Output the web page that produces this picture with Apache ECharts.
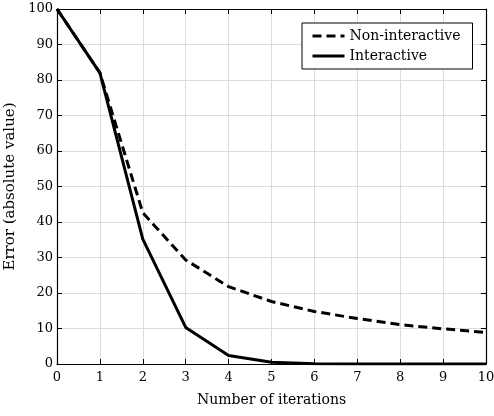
<!DOCTYPE html>
<html><head><meta charset="utf-8">
<script src="https://cdn.jsdelivr.net/npm/echarts@6/dist/echarts.min.js"></script>
<style>html,body{margin:0;padding:0;background:#fff}#c{width:494px;height:416px}</style>
</head><body><div id="c"></div>
<script>
const iterations = [0,1,2,3,4,5,6,7,8,9,10];
const nonInteractive = [100,82,42.6,29.3,21.8,17.6,14.8,12.8,11.1,9.9,8.9];
const interactive = [100,82,35.2,10.3,2.4,0.5,0.1,0,0,0,0];
const seriesNames = ['Non-interactive','Interactive'];
const F = 'DejaVu Serif, serif';
const chart = echarts.init(document.getElementById('c'));
const axisBase = {
  min: 0,
  axisLine:{show:true,onZero:false,lineStyle:{color:'#000',width:1.2}},
  axisTick:{show:true,inside:true,length:5,lineStyle:{color:'#000',width:1}},
};
chart.setOption({
  animation:false,
  grid:{left:57,right:8,top:9,bottom:52,containLabel:false,outerBoundsMode:'none'},
  legend:{
    show:true, left:302, top:23, orient:'vertical', itemWidth:32, itemHeight:12, itemGap:6,
    padding:[6,12,6,9], borderColor:'#000', borderWidth:1, backgroundColor:'#fff',
    itemStyle:{opacity:0}, lineStyle:{width:3},
    textStyle:{fontFamily:F,fontSize:14,color:'#000'},
    data: seriesNames
  },
  xAxis:[
    Object.assign({type:'value',position:'bottom',max:10,interval:1,
      name:'Number of iterations',nameLocation:'middle',nameGap:29,
      nameTextStyle:{fontFamily:F,fontSize:14,color:'#000'},
      axisLabel:{fontFamily:F,fontSize:13,color:'#000',margin:7},
      splitLine:{show:true,lineStyle:{color:'#dcdcdc',width:1}}},axisBase),
    Object.assign({type:'value',position:'top',max:10,interval:1,
      axisLabel:{show:false},splitLine:{show:false}},axisBase)
  ],
  yAxis:[
    Object.assign({type:'value',position:'left',max:100,interval:10,
      name:'Error (absolute value)',nameLocation:'middle',nameGap:31,
      nameTextStyle:{fontFamily:F,fontSize:15,color:'#000'},
      axisLabel:{fontFamily:F,fontSize:13,color:'#000',margin:4},
      splitLine:{show:true,lineStyle:{color:'#dcdcdc',width:1}}},axisBase),
    Object.assign({type:'value',position:'right',max:100,interval:10,
      axisLabel:{show:false},splitLine:{show:false}},axisBase)
  ],
  series:[
    {name:seriesNames[0],type:'line',symbol:'none',data:iterations.map((x,i)=>[x,nonInteractive[i]]),
     lineStyle:{color:'#000',width:3,type:[9,5]},itemStyle:{color:'#000'},z:3},
    {name:seriesNames[1],type:'line',symbol:'none',data:iterations.map((x,i)=>[x,interactive[i]]),
     lineStyle:{color:'#000',width:3,type:'solid'},itemStyle:{color:'#000'},z:4}
  ]
});
</script></body></html>
